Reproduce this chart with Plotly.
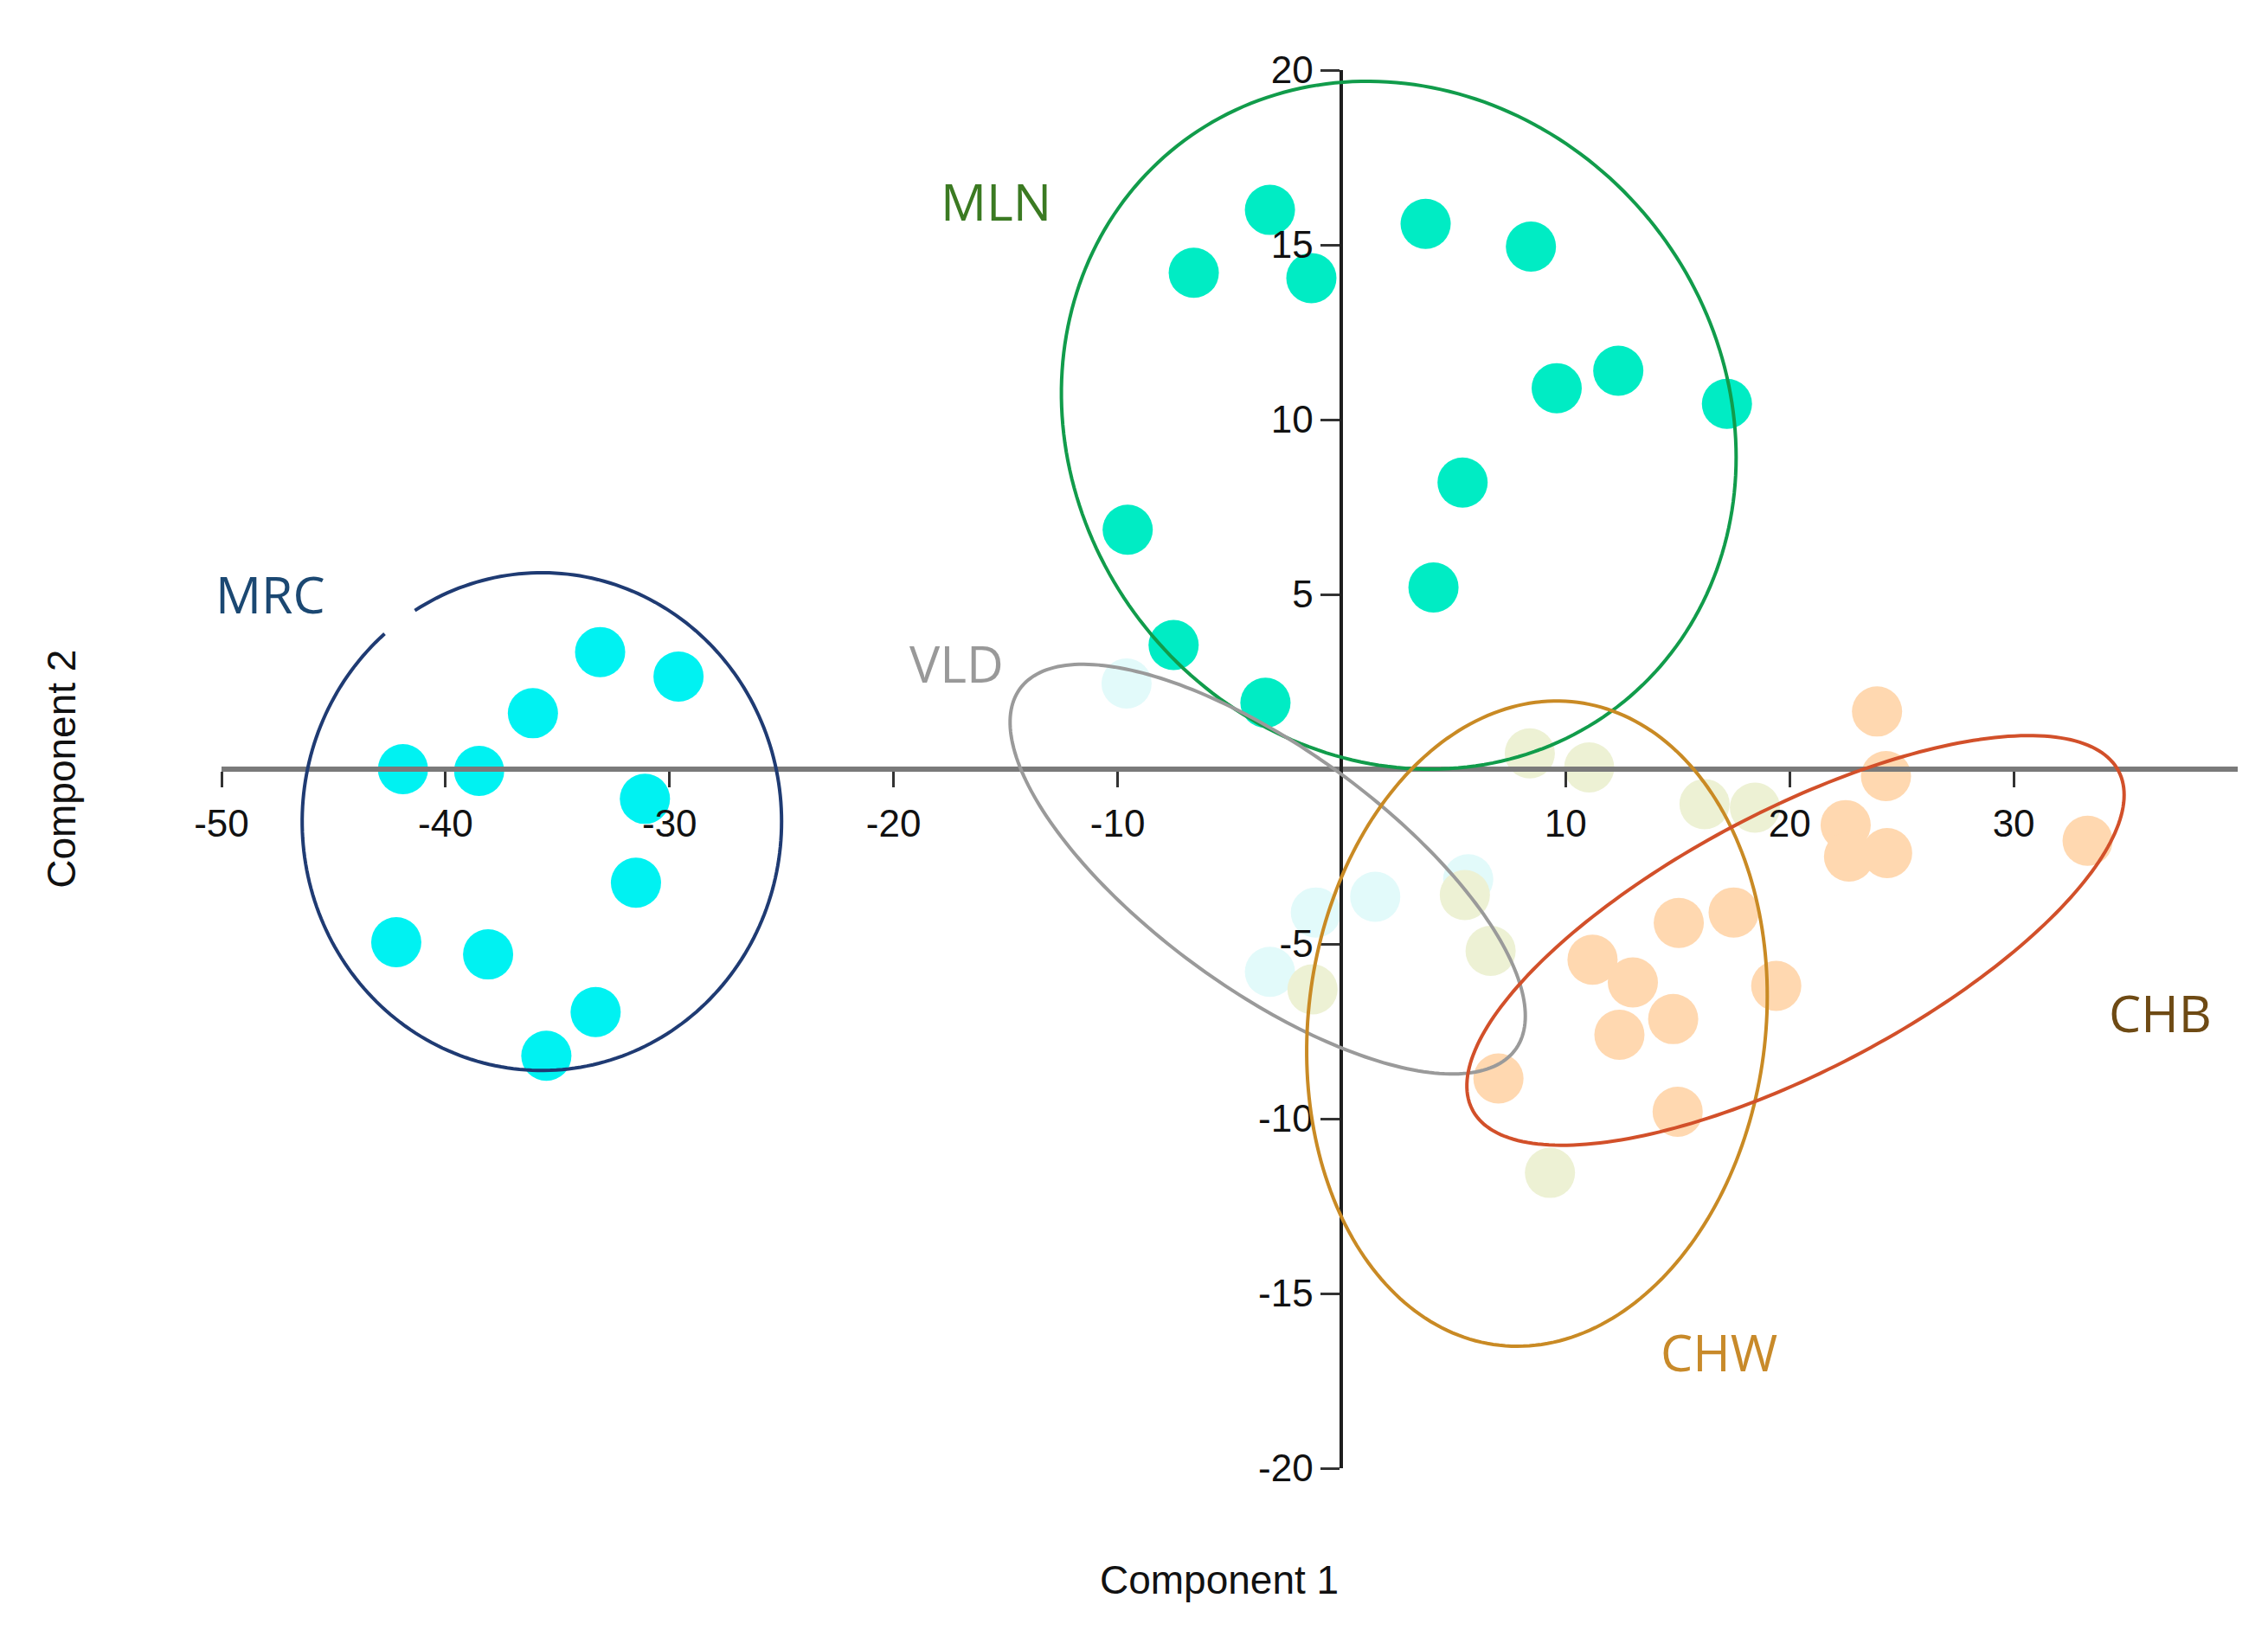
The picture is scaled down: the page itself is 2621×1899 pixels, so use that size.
import numpy as np
import plotly.graph_objects as go

# ---------------- data ----------------
groups = ["MRC", "MLN", "VLD", "CHW", "CHB"]

mrc_x = [-41.9, -38.5, -36.1, -33.1, -29.6, -31.1, -31.5, -42.2, -38.1, -33.3, -35.5]
mrc_y = [0.0, -0.05, 1.6, 3.35, 2.65, -0.85, -3.25, -4.95, -5.3, -6.95, -8.2]

mln_x = [-3.2, -6.6, -1.35, 3.75, 8.45, 9.6, 12.35, 17.2, 5.4, -9.55, 4.1, -7.5, -3.4]
mln_y = [16.0, 14.2, 14.05, 15.6, 14.95, 10.9, 11.4, 10.45, 8.2, 6.85, 5.2, 3.55, 1.9]

vld_x = [-9.6, 1.5, 5.65, -1.15, -3.2]
vld_y = [2.45, -3.65, -3.15, -4.1, -5.8]

chw_x = [8.4, 11.05, 16.2, 18.45, 6.65, 9.3, -1.3, 5.5]
chw_y = [0.45, 0.05, -1.0, -1.1, -5.2, -11.55, -6.3, -3.6]

chb_x = [23.9, 24.3, 22.5, 22.65, 24.35, 15.05, 17.5, 11.2, 13.0, 19.4, 14.8, 12.4, 7.0, 15.0, 33.3]
chb_y = [1.65, -0.2, -1.6, -2.5, -2.4, -4.4, -4.1, -5.45, -6.1, -6.2, -7.15, -7.6, -8.85, -9.8, -2.05]

# ellipse summaries per group: centre, half-extent in x / y, correlation
ell_cx = [-35.7, 2.55, -3.3, 8.72, 20.26]
ell_cy = [-1.5, 9.84, -2.86, -7.28, -4.9]
ell_sx = [10.7, 15.06, 11.5, 10.28, 14.67]
ell_sy = [7.12, 9.84, 5.86, 9.23, 5.86]
ell_rho = [0.0, -0.093, -0.717, 0.0856, 0.71]

# label positions (data units)
label_x = [-47.83, -15.44, -17.18, 16.86, 36.54]
label_y = [5.02, 16.27, 3.04, -16.65, -6.96]

x_ticks = [-50, -40, -30, -20, -10, 10, 20, 30]
y_ticks = [-20, -15, -10, -5, 5, 10, 15, 20]

# ---------------- styles ----------------
point_colors = {"MRC": "#00f2f2", "MLN": "#00ecc4", "VLD": "#e2fafa",
                "CHW": "#edf1d4", "CHB": "#ffd8b0"}
line_colors = ["#1f3b73", "#119c4b", "#9a9a9a", "#c98a24", "#d2502a"]
label_colors = ["#1b4872", "#3b7a22", "#999999", "#c88a2a", "#6e4a14"]

pts = {"MRC": (mrc_x, mrc_y), "MLN": (mln_x, mln_y), "VLD": (vld_x, vld_y),
       "CHW": (chw_x, chw_y), "CHB": (chb_x, chb_y)}

fig = go.Figure()
for g in ["VLD", "CHW", "CHB", "MRC", "MLN"]:
    xs, ys = pts[g]
    fig.add_trace(go.Scatter(x=xs, y=ys, mode="markers", name=g,
                             marker=dict(size=58, color=point_colors[g], line=dict(width=0)),
                             cliponaxis=False, showlegend=False, hoverinfo="skip"))


def ellipse_path(cx, cy, sx, sy, rho, t0=0.0, t1=2 * np.pi, closed=True):
    t = np.linspace(t0, t1, 240)
    x = cx + sx * np.cos(t)
    y = cy + sy * (rho * np.cos(t) + np.sqrt(1 - rho ** 2) * np.sin(t))
    p = "M " + " L ".join(f"{a:.4f},{b:.4f}" for a, b in zip(x, y))
    return p + (" Z" if closed else "")


shapes = []
for i, g in enumerate(groups):
    if g == "MRC":
        # the MRC circle has a small break in its upper-left part
        path = ellipse_path(ell_cx[i], ell_cy[i], ell_sx[i], ell_sy[i], ell_rho[i],
                            np.deg2rad(131), np.deg2rad(122 + 360), closed=False)
    else:
        path = ellipse_path(ell_cx[i], ell_cy[i], ell_sx[i], ell_sy[i], ell_rho[i])
    shapes.append(dict(type="path", path=path, xref="x", yref="y", layer="above",
                       line=dict(color=line_colors[i], width=4)))

annotations = []
for i, g in enumerate(groups):
    annotations.append(dict(x=label_x[i], y=label_y[i], xref="x", yref="y", text=g,
                            showarrow=False, xanchor="center", yanchor="middle",
                            font=dict(family="Open Sans", size=59, color=label_colors[i])))

annotations.append(dict(x=0.495, y=-0.080, xref="paper", yref="paper", text="Component 1",
                        showarrow=False, xanchor="center", yanchor="middle",
                        font=dict(family="Liberation Sans", size=46, color="#111111")))
annotations.append(dict(x=-0.0795, y=0.500, xref="paper", yref="paper", text="Component 2",
                        showarrow=False, xanchor="center", yanchor="middle", textangle=-90,
                        font=dict(family="Liberation Sans", size=46, color="#111111")))

fig.update_layout(
    width=2621, height=1899,
    margin=dict(l=248, r=43, t=73, b=210),
    paper_bgcolor="white", plot_bgcolor="white",
    shapes=shapes, annotations=annotations,
    font=dict(family="Liberation Sans", size=44, color="#111111"),
    xaxis=dict(range=[-50, 40], anchor="free", position=0.5,
               showgrid=False, zeroline=False,
               showline=True, linecolor="#7a7a7a", linewidth=6,
               ticks="outside", ticklen=18, tickwidth=3, tickcolor="#333333",
               tickvals=x_ticks, ticktext=[str(v) for v in x_ticks],
               tickfont=dict(family="Liberation Sans", size=44, color="#111111"),
               ticklabelstandoff=4, layer="above traces"),
    yaxis=dict(range=[-20, 20], anchor="free", position=5 / 9,
               showgrid=False, zeroline=False,
               showline=True, linecolor="#1e1e1e", linewidth=4,
               ticks="outside", ticklen=22, tickwidth=3, tickcolor="#333333",
               tickvals=y_ticks, ticktext=[str(v) for v in y_ticks],
               tickfont=dict(family="Liberation Sans", size=44, color="#111111"),
               layer="above traces"),
)

fig.write_html("out.html")
